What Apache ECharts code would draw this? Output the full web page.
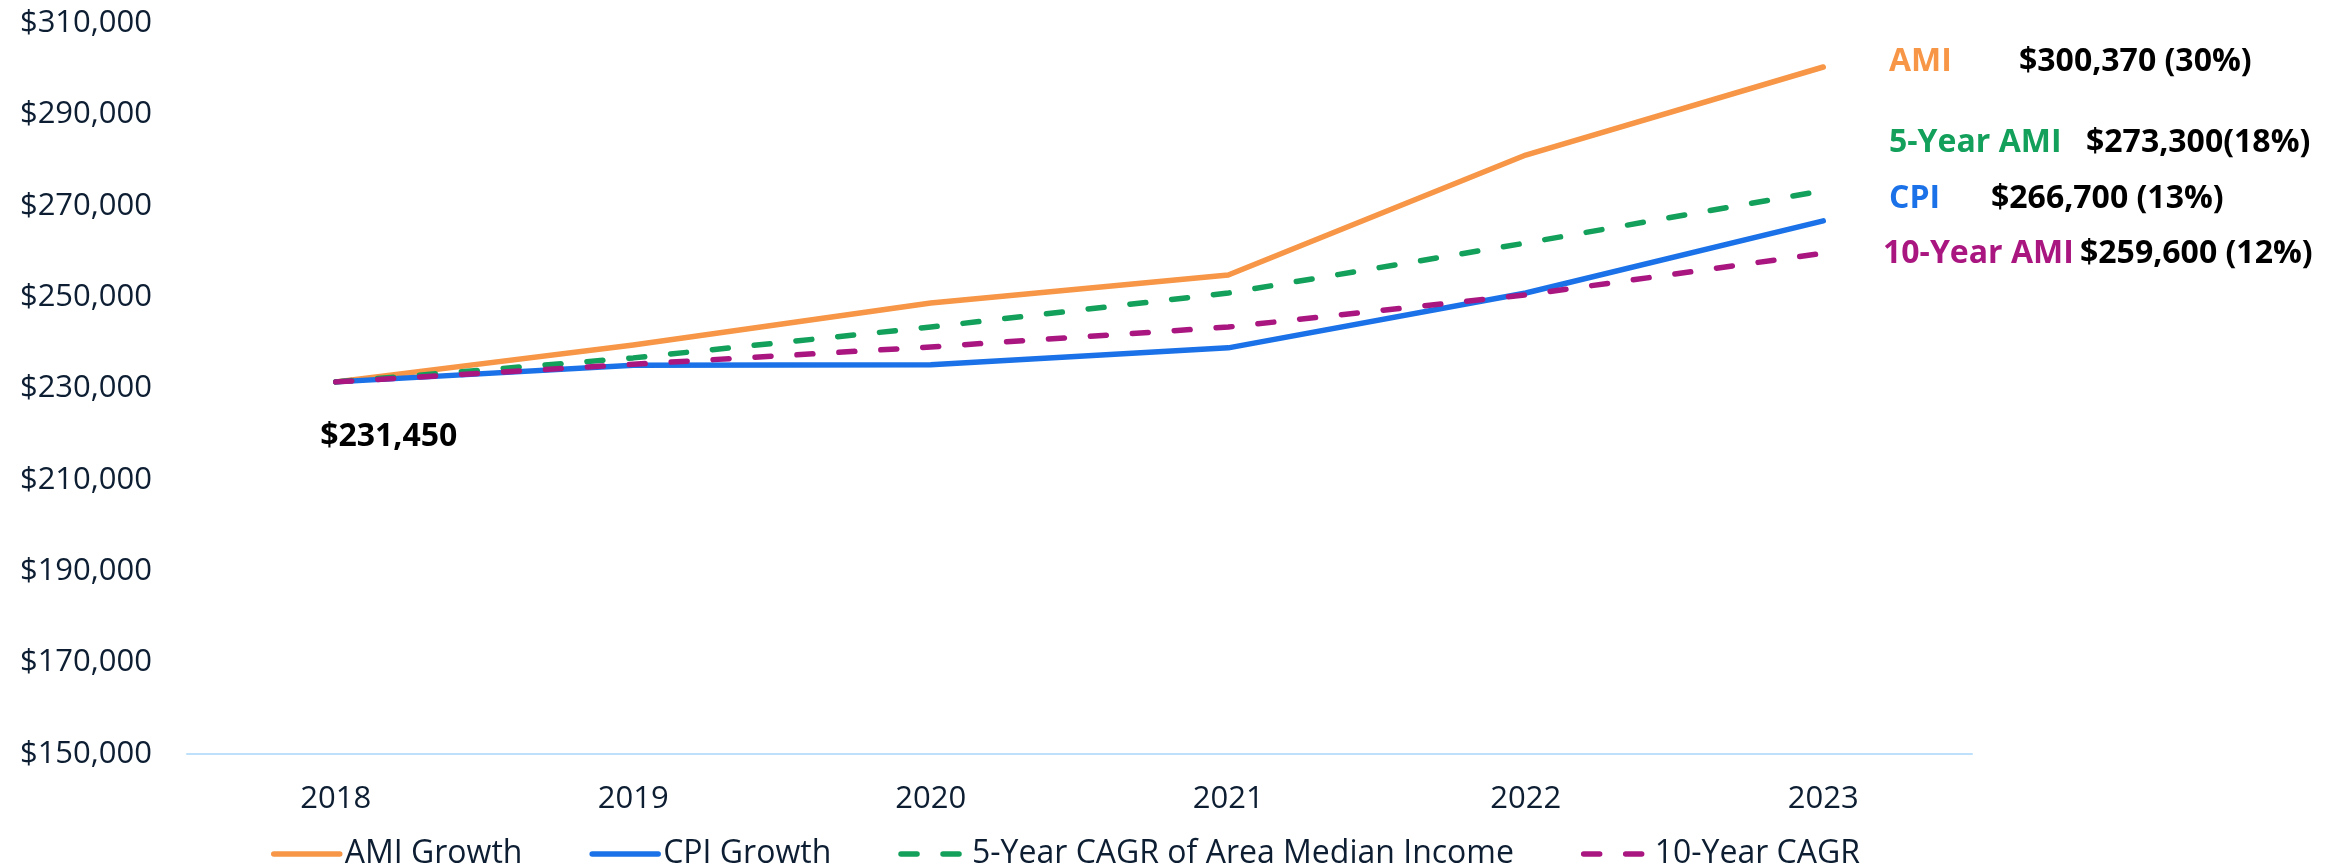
<!DOCTYPE html>
<html>
<head>
<meta charset="utf-8">
<script src="https://cdn.jsdelivr.net/npm/echarts@6/dist/echarts.min.js"></script>
<style>
  html, body { margin: 0; padding: 0; background: #ffffff; }
  #chart { width: 2341px; height: 867px; }
</style>
</head>
<body>
<div id="chart"></div>
<script>
// ---- Data ----
const years = ['2018', '2019', '2020', '2021', '2022', '2023'];
const amiGrowth = [231450, 239500, 248700, 254850, 281100, 300370];
const cpiGrowth = [231450, 235100, 235200, 238900, 250900, 266700];
const cagr5Year = [231450, 236700, 243450, 250900, 261850, 273300];
const cagr10Year = [231450, 235300, 239100, 243450, 250500, 259600];
const seriesNames = ['AMI Growth', 'CPI Growth', '5-Year CAGR of Area Median Income', '10-Year CAGR'];
const yMin = 150000, yMax = 310000, yStep = 20000;
const startLabel = '$231,450';
const annoNames = ['AMI', '5-Year AMI', 'CPI', '10-Year AMI'];
const annoValues = ['$300,370 (30%)', '$273,300(18%)', '$266,700 (13%)', '$259,600 (12%)'];

// ---- Styling ----
const FONT = "'Open Sans', 'Noto Sans', sans-serif";
const TEXT = '#0d1e33';
const COLORS = ['#F79646', '#1B72E8', '#12A05B', '#AA1680'];
const DASH = [16, 26];
const LW = 5.5;

const chart = echarts.init(document.getElementById('chart'), null, { renderer: 'canvas' });

function fmtMoney(v) {
  return '$' + Number(v).toLocaleString('en-US');
}

function lineSeries(i, data, dashed) {
  return {
    name: seriesNames[i],
    type: 'line',
    data: data,
    symbol: 'none',
    smooth: false,
    z: 2 + i,
    lineStyle: {
      color: COLORS[i],
      width: LW,
      type: dashed ? DASH : 'solid',
      cap: 'round',
      join: 'round'
    },
    itemStyle: { color: COLORS[i] }
  };
}

const series = [
  lineSeries(0, amiGrowth, false),
  lineSeries(1, cpiGrowth, false),
  lineSeries(2, cagr5Year, true),
  lineSeries(3, cagr10Year, true)
];

series[0].markPoint = {
  symbol: 'circle',
  symbolSize: 1,
  itemStyle: { color: 'rgba(0,0,0,0)' },
  silent: true,
  data: [{
    coord: [years[0], amiGrowth[0]],
    label: {
      show: true,
      position: 'inside',
      offset: [53, 55],
      formatter: startLabel,
      fontFamily: FONT,
      fontWeight: 'bold',
      fontSize: 32,
      color: '#000000'
    }
  }]
};

// right-hand annotations
const annoY = [62, 143, 199, 254];
const annoNameX = [1889, 1889, 1889, 1883];
const annoValX = [2019, 2086, 1991, 2080];
const annoColors = [COLORS[0], COLORS[2], COLORS[1], COLORS[3]];
const graphics = [];
for (let i = 0; i < annoNames.length; i++) {
  graphics.push({
    type: 'text', x: annoNameX[i], y: annoY[i],
    style: { text: annoNames[i], fill: annoColors[i], font: 'bold 32px ' + FONT, verticalAlign: 'middle', align: 'left' }
  });
  graphics.push({
    type: 'text', x: annoValX[i], y: annoY[i],
    style: { text: annoValues[i], fill: '#000000', font: 'bold 32px ' + FONT, verticalAlign: 'middle', align: 'left' }
  });
}

const option = {
  animation: false,
  backgroundColor: '#ffffff',
  grid: { left: 187, right: 369, top: 23, bottom: 113, containLabel: false },
  xAxis: {
    type: 'category',
    data: years,
    boundaryGap: true,
    axisLine: { show: true, lineStyle: { color: '#BEE0FB', width: 2 } },
    axisTick: { show: false },
    axisLabel: { color: TEXT, fontFamily: FONT, fontSize: 31, margin: 30 },
    splitLine: { show: false }
  },
  yAxis: {
    type: 'value',
    min: yMin,
    max: yMax,
    interval: yStep,
    axisLine: { show: false },
    axisTick: { show: false },
    splitLine: { show: false },
    axisLabel: {
      color: TEXT, fontFamily: FONT, fontSize: 31, margin: 35,
      formatter: fmtMoney
    }
  },
  legend: {
    data: seriesNames,
    left: 266,
    top: 833,
    itemWidth: 66,
    itemHeight: 14,
    itemGap: 67,
    itemStyle: { opacity: 0 },
    lineStyle: { width: LW, cap: 'round' },
    textStyle: { color: TEXT, fontFamily: FONT, fontSize: 32, padding: 0 }
  },
  graphic: graphics,
  series: series
};

chart.setOption(option);
</script>
</body>
</html>
